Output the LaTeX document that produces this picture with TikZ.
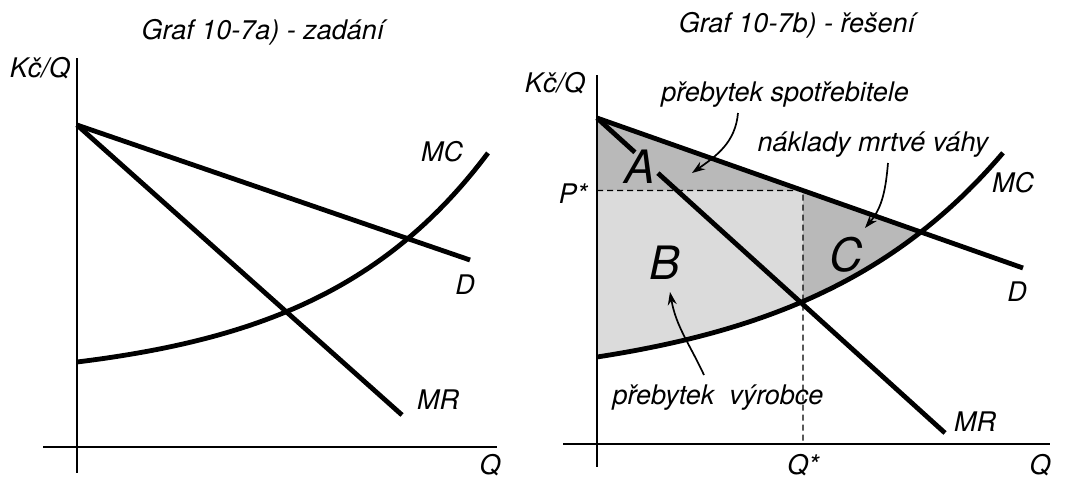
\documentclass[tikz,border=0pt]{standalone}
\usepackage{fontspec}
\newfontfamily\grafont{TeX Gyre Heros}
\usetikzlibrary{arrows.meta,calc,positioning}

\begin{document}
\begin{tikzpicture}[x=1pt,y=-1pt,
  axis/.style={line width=2.2pt},
  curve/.style={line width=4.8pt},
  guide/.style={line width=1.4pt,dash pattern=on 6pt off 4pt},
  pointer/.style={line width=1.7pt,-{Stealth[length=13pt,width=9pt]}},
  lbl/.style={font=\grafont\itshape\fontsize{27}{32}\selectfont},
  area/.style={font=\grafont\itshape\fontsize{46}{52}\selectfont}]
\useasboundingbox (0,0) rectangle (1074,480);
% Graf a
\coordinate (T1) at (77,125);
\coordinate (D1) at (470,260);
\coordinate (MR1) at (402,415);
\node[lbl] (tit1) at (263,32) {Graf 10-7a) - zadání};
\draw[axis] (77,58) -- (77,473);
\draw[axis] (43,447) -- (497,447);
\node[lbl] (ka) at (40,68) {Kč/Q};
\node[lbl] (qa) at (490,465) {Q};
\draw[curve] (T1) -- (D1);
\draw[curve] (T1) -- (MR1);
\draw[curve] plot[domain=77:488,samples=60] (\x,{383.25-21.25*exp(0.0058*(\x-77))});
\node[lbl] (mca) at (442,152) {MC};
\node[lbl] (da) at (465,285) {D};
\node[lbl] (mra) at (438,400) {MR};
% Graf b
\coordinate (T2) at (597,118);
\coordinate (D2) at (1023,268);
\coordinate (MR2) at (945,433);
\coordinate (E2) at ($(T2)!{206/426}!(D2)$);
\coordinate (X2) at ($(T2)!{325/426}!(D2)$);
\coordinate (P2) at (T2 |- E2);
\coordinate (S2) at (803,301.5);
\coordinate (Q2) at (803,444);
\fill[gray!55] (T2) -- (E2) -- (P2) -- cycle;
\fill[gray!28] (P2) -- (E2) -- (S2) -- plot[domain=803:597,samples=40] (\x,{387.8-30.8*exp(0.005*(\x-597))}) -- cycle;
\fill[gray!55] (E2) -- (X2) -- plot[domain=922:803,samples=30] (\x,{387.8-30.8*exp(0.005*(\x-597))}) -- cycle;
\node[lbl] (tit2) at (797,25) {Graf 10-7b) - řešení};
\draw[axis] (597,75) -- (597,467);
\draw[axis] (563,444) -- (1050,444);
\node[lbl] (kb) at (555,83) {Kč/Q};
\node[lbl] (qb) at (1040,465) {Q};
\draw[guide] (P2) -- (E2) -- (Q2);
\node[lbl] (ps) at (573,194) {P*};
\node[lbl] (qs) at (803,465) {Q*};
\draw[curve] (T2) -- (D2);
\draw[curve] (T2) -- ($(T2)!0.109!(MR2)$);
\draw[curve] ($(T2)!0.175!(MR2)$) -- (MR2);
\draw[curve] plot[domain=597:1003,samples=60] (\x,{387.8-30.8*exp(0.005*(\x-597))});
\node[lbl] (mcb) at (1013,183) {MC};
\node[lbl] (db) at (1017,292) {D};
\node[lbl] (mrb) at (975,422) {MR};
\node[area] (A) at (640,167) {A};
\node[area] (B) at (665,263) {B};
\node[area] (C) at (846,255) {C};
\node[lbl] (cs) at (785,95) {přebytek spotřebitele};
\node[lbl] (dw) at (873,145) {náklady mrtvé váhy};
\node[lbl] (ps2) at (718,398) {přebytek\ \ výrobce};
\draw[pointer] (738,113) to[out=-95,in=35] (692,173);
\draw[pointer] (888,163) to[out=-95,in=50] (865,228);
\draw[pointer] (704,375) to[out=115,in=-80] (670,292);
\end{tikzpicture}
\end{document}
